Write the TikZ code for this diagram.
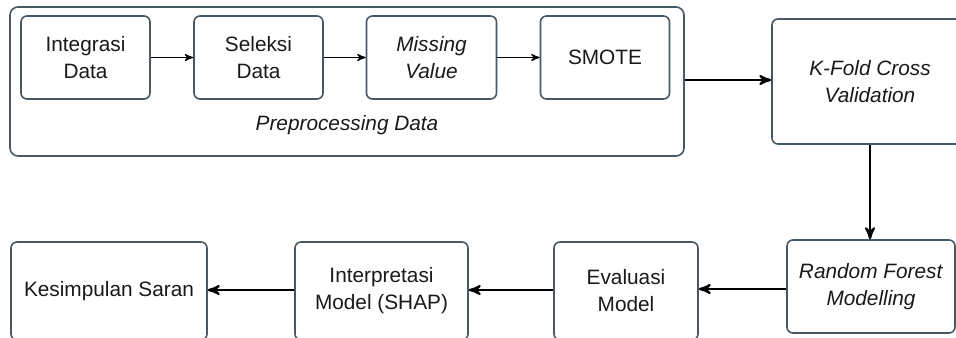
\documentclass[tikz,border=0pt]{standalone}
\usepackage{fontspec}
\setmainfont{Liberation Sans}
\usepackage{tikz}
\usetikzlibrary{positioning,arrows}
\definecolor{boxline}{RGB}{70,88,100}
\definecolor{boxtext}{RGB}{25,25,25}

\begin{document}
\begin{tikzpicture}[x=0.5pt,y=-0.5pt,font=\fontsize{10.4}{13.5}\selectfont,text=boxtext]
    \tikzstyle{stepbox}=[draw=boxline, line width=0.8pt, rounded corners=3pt, align=center, inner sep=0pt, on grid]
    \tikzstyle{flow}=[line width=1.1pt,-stealth']
    \tikzstyle{subflow}=[line width=0.6pt,-stealth']
    \useasboundingbox (0,0) rectangle (956,337);
    \clip (0,0) rectangle (956,337);

    % preprocessing group
    \node[stepbox, minimum width=337pt, minimum height=74.5pt, rounded corners=4pt] (preproc) at (347,81.5) {};
    \node[stepbox, minimum width=64.5pt, minimum height=41.5pt] (integrasi) at (85.5,57.5) {Integrasi\\Data};
    \node[stepbox, minimum width=64.5pt, minimum height=41.5pt, right=86.5pt of integrasi] (seleksi) {Seleksi\\Data};
    \node[stepbox, minimum width=65pt, minimum height=41.5pt, right=86.5pt of seleksi] (missing) {\textit{Missing}\\\textit{Value}};
    \node[stepbox, minimum width=64.5pt, minimum height=41.5pt, right=86.75pt of missing] (smote) {SMOTE};
    \node (preproclabel) at (347,125) {\textit{Preprocessing Data}};

    % main flow
    \node[stepbox, minimum width=98pt, minimum height=62.5pt] (kfold) at (870,81.5) {\textit{K-Fold Cross}\\\textit{Validation}};
    \node[stepbox, minimum width=84pt, minimum height=46.5pt] (rf) at (871,286.5) {\textit{Random Forest}\\\textit{Modelling}};
    \node[stepbox, minimum width=72pt, minimum height=49pt] (evaluasi) at (626,291) {Evaluasi\\Model};
    \node[stepbox, minimum width=86.5pt, minimum height=49pt, left=122.25pt of evaluasi] (interpretasi) {Interpretasi\\Model (SHAP)};
    \node[stepbox, minimum width=98pt, minimum height=49pt, left=136.25pt of interpretasi] (kesimpulan) {Kesimpulan Saran};

    \draw[subflow] (integrasi) -- (seleksi);
    \draw[subflow] (seleksi) -- (missing);
    \draw[subflow] (missing) -- (smote);

    \draw[flow] (preproc.east |- 0,80) -- (kfold.west |- 0,80);
    \draw[flow] (kfold) -- (kfold |- rf.north);
    \draw[flow] (rf.west |- 0,289) -- (evaluasi.east |- 0,289);
    \draw[flow] (evaluasi.west |- 0,290) -- (interpretasi.east |- 0,290);
    \draw[flow] (interpretasi.west |- 0,290) -- (kesimpulan.east |- 0,290);
\end{tikzpicture}
\end{document}
